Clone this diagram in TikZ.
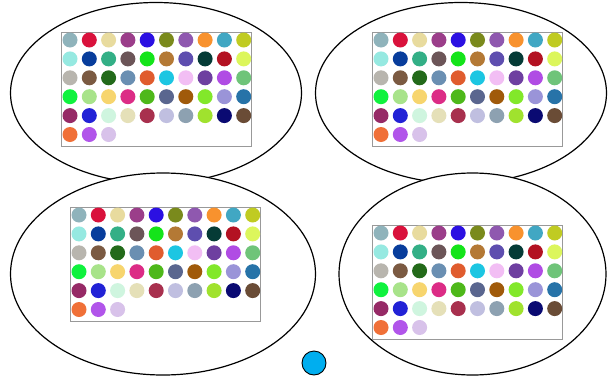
\documentclass[tikz,border=0pt]{standalone}
\usepackage{tikz}
\usetikzlibrary{shapes.geometric, positioning, calc}

% palette of the swatch panels
\definecolor{c1}{HTML}{8FB3BB}
\definecolor{c2}{HTML}{D9123C}
\definecolor{c3}{HTML}{E8DB9E}
\definecolor{c4}{HTML}{9B3E8A}
\definecolor{c5}{HTML}{2B10E2}
\definecolor{c6}{HTML}{7A8A1C}
\definecolor{c7}{HTML}{8F58AF}
\definecolor{c8}{HTML}{F8922E}
\definecolor{c9}{HTML}{41A7C3}
\definecolor{c10}{HTML}{C0CB22}
\definecolor{c11}{HTML}{96E9E1}
\definecolor{c12}{HTML}{083D9C}
\definecolor{c13}{HTML}{33AF86}
\definecolor{c14}{HTML}{6C5558}
\definecolor{c15}{HTML}{14E41A}
\definecolor{c16}{HTML}{B47935}
\definecolor{c17}{HTML}{5E4EAF}
\definecolor{c18}{HTML}{053B36}
\definecolor{c19}{HTML}{B31222}
\definecolor{c20}{HTML}{DCF65C}
\definecolor{c21}{HTML}{B8B5AE}
\definecolor{c22}{HTML}{7B5A42}
\definecolor{c23}{HTML}{236A1A}
\definecolor{c24}{HTML}{6A8FB2}
\definecolor{c25}{HTML}{E05C2E}
\definecolor{c26}{HTML}{1CC6E2}
\definecolor{c27}{HTML}{F2BEF4}
\definecolor{c28}{HTML}{6E3FA0}
\definecolor{c29}{HTML}{B04CE4}
\definecolor{c30}{HTML}{6FC479}
\definecolor{c31}{HTML}{10F23E}
\definecolor{c32}{HTML}{A8E38A}
\definecolor{c33}{HTML}{F7D56E}
\definecolor{c34}{HTML}{DC2C86}
\definecolor{c35}{HTML}{4EB81A}
\definecolor{c36}{HTML}{5A668F}
\definecolor{c37}{HTML}{A05A0A}
\definecolor{c38}{HTML}{82E82A}
\definecolor{c39}{HTML}{9A94D8}
\definecolor{c40}{HTML}{2773A8}
\definecolor{c41}{HTML}{962A66}
\definecolor{c42}{HTML}{2222D6}
\definecolor{c43}{HTML}{CFF5DF}
\definecolor{c44}{HTML}{E5E0B8}
\definecolor{c45}{HTML}{A8304E}
\definecolor{c46}{HTML}{C0BFE0}
\definecolor{c47}{HTML}{8DA1B1}
\definecolor{c48}{HTML}{A0E22E}
\definecolor{c49}{HTML}{0A0A72}
\definecolor{c50}{HTML}{6A4C36}
\definecolor{c51}{HTML}{F07038}
\definecolor{c52}{HTML}{B155EA}
\definecolor{c53}{HTML}{D8C2EA}
\definecolor{ballblue}{HTML}{00AEEF}

\tikzset{
  blob/.style={ellipse, draw, line width=1.2pt, fill=white, inner sep=0pt},
  panel/.style={draw=gray!80, line width=0.6pt, fill=white, inner sep=0pt,
    minimum width=190pt, minimum height=114pt, anchor=north west},
  swatch/.style={circle, inner sep=0pt, minimum size=15pt},
  ball/.style={circle, draw, line width=0.9pt, fill=ballblue, inner sep=0pt, minimum size=24pt}
}

% panel of colour dots: name, top-left corner
\newcommand{\swatchpanel}[2]{%
  \node[panel] (#1) at (#2) {};
  \foreach \c [count=\i from 0] in {c1,c2,c3,c4,c5,c6,c7,c8,c9,c10,
      c11,c12,c13,c14,c15,c16,c17,c18,c19,c20,
      c21,c22,c23,c24,c25,c26,c27,c28,c29,c30,
      c31,c32,c33,c34,c35,c36,c37,c38,c39,c40,
      c41,c42,c43,c44,c45,c46,c47,c48,c49,c50,
      c51,c52,c53} {
    \pgfmathtruncatemacro\col{mod(\i,10)}
    \pgfmathtruncatemacro\row{div(\i,10)}
    \node[swatch, fill=\c] (#1-\i) at ($(#1.north west)+(9+19.3*\col,8+18.9*\row)$) {};
  }%
}

\begin{document}
\begin{tikzpicture}[x=1pt, y=-1pt]
  \useasboundingbox (0,0) rectangle (608,378);

  % === TOP ROW ===
  \node[blob, minimum width=291pt, minimum height=181pt] (topleft) at (156,93) {};
  \node[blob, minimum width=291pt, minimum height=181pt] (topright) at (461,93) {};
  \swatchpanel{tlpanel}{61,32}
  \swatchpanel{trpanel}{372,32}

  % === BOTTOM ROW ===
  \node[blob, minimum width=305pt, minimum height=202pt] (botleft) at (163,274) {};
  \node[blob, minimum width=267pt, minimum height=202pt] (botright) at (472.5,274) {};
  \swatchpanel{blpanel}{70,207}
  \swatchpanel{brpanel}{372,225}

  % blue ball
  \node[ball] (ball) at (314,363) {};
\end{tikzpicture}
\end{document}
